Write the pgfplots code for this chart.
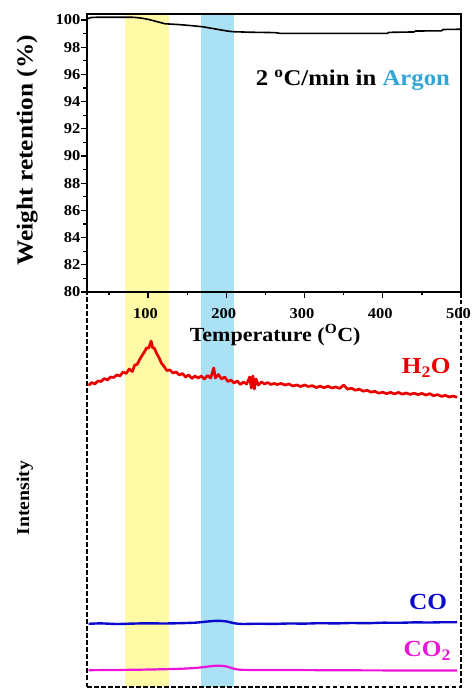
\documentclass[border=0pt]{standalone}
\usepackage{fontspec}
\setmainfont{Liberation Serif}[FakeStretch=1.1]
\usepackage{pgfplots}
\pgfplotsset{compat=1.18}

\definecolor{bandy}{RGB}{255,250,165}
\definecolor{bandb}{RGB}{170,225,245}
\definecolor{argon}{RGB}{50,165,215}
\definecolor{h2o}{RGB}{235,0,0}
\definecolor{coblue}{RGB}{10,10,205}
\definecolor{comag}{RGB}{235,20,215}

\begin{document}
\begin{tikzpicture}
\useasboundingbox (0,0) rectangle (473pt,691pt);

% lower panel: mass spec signals
\begin{axis}[
    at={(87pt,4pt)}, anchor=south west,
    scale only axis, width=374pt, height=395pt,
    xmin=22, xmax=500, ymin=0, ymax=395,
    axis lines=none, xtick=\empty, ytick=\empty,
    clip=false,
]
\addplot[fill=bandy, draw=none] coordinates {(70,0) (70,395) (127,395) (127,0)} -- cycle;
\addplot[fill=bandb, draw=none] coordinates {(168,0) (168,395) (210,395) (210,0)} -- cycle;

\addplot[h2o, line width=2.7pt, line join=round] coordinates {
(24,301.5) (28,304.5) (32,303) (36,306) (40,305.5) (44,308.5) (48,307) (52,310)
(56,309.5) (60,312) (64,311) (68,315) (72,313.5) (76,318) (80,315.5) (83,322)
(86,322.5) (89,327) (92,331) (95,334.5) (98,339) (101,339) (104,346) (106,339)
(108,339) (111,333.5) (114,329.5) (117,324) (120,321) (124,316.5) (128,317) (132,314)
(136,315) (140,312) (144,313.5) (148,310) (152,312) (156,308.5) (160,311) (164,309)
(168,311) (172,308) (176,311.5) (180,309) (184,319) (186,309) (190,312.5) (194,308)
(198,310) (202,305.5) (206,307) (210,304) (214,306) (218,302.5) (222,305) (226,303)
(230,310) (232,299) (234,311) (236,298) (238,308) (241,302) (245,305) (249,303)
(253,304.5) (257,302.5) (261,303.5) (265,302.5) (270,303.5) (275,302) (280,303) (285,301)
(290,302) (295,300.5) (300,302) (305,300.5) (310,301.3) (315,299.5) (320,300.8) (325,299.3)
(330,300.8) (335,299) (340,300) (345,298.6) (350,302) (355,297.8) (360,298.8) (365,296.8)
(370,297.8) (375,295.8) (380,296.7) (385,294.8) (390,295.7) (395,293.8) (400,294.8) (405,293.3)
(410,294.7) (415,293) (420,294.6) (425,292.8) (430,294) (435,292.6) (440,293.8) (445,292.4)
(450,293.6) (455,292) (460,293.3) (465,291.3) (470,292.4) (475,290.6) (480,291.7) (485,290)
(490,291) (495,289.7)
};

\addplot[coblue, line width=2.4pt, smooth] coordinates {
(24,63.2) (40,63.6) (60,63.0) (80,63.4) (100,63.7) (120,63.5) (140,63.8)
(160,64.3) (170,65.0) (180,65.8) (190,66.2) (200,65.6) (210,63.8) (220,63.0)
(240,63.3) (260,63.1) (280,63.5) (300,63.4) (320,63.8) (340,63.6) (360,64.0)
(380,63.8) (400,64.3) (420,64.2) (440,64.6) (460,64.5) (480,64.8) (495,64.7)
};

\addplot[comag, line width=2.2pt, smooth] coordinates {
(24,16.8) (50,17.0) (80,17.2) (110,17.6) (140,18.2) (160,19.0) (175,20.3)
(188,21.3) (200,20.6) (210,18.2) (220,17.2) (250,17.0) (300,16.9) (350,16.7)
(400,16.6) (450,16.5) (495,16.4)
};

\draw[dash pattern=on 4.5pt off 2.5pt, line width=1.5pt] (rel axis cs:0,0) rectangle (rel axis cs:1,1);

\node[text=h2o, font=\fontsize{23}{26}\selectfont\bfseries] at (rel axis cs:0.907,0.808) {H\textsubscript{2}O};
\node[text=coblue, font=\fontsize{23}{26}\selectfont\bfseries] at (rel axis cs:0.912,0.216) {CO};
\node[text=comag, font=\fontsize{23}{26}\selectfont\bfseries] at (rel axis cs:0.91,0.092) {CO\textsubscript{2}};
\node[rotate=90, font=\fontsize{18}{22}\selectfont\bfseries] at (rel axis cs:-0.166,0.478) {Intensity};
\end{axis}

% upper panel: TGA
\begin{axis}[
    at={(87pt,399pt)}, anchor=south west,
    scale only axis, width=374pt, height=278pt,
    xmin=22, xmax=500, ymin=80, ymax=100.44,
    axis on top, clip=false,
    axis line style={line width=1.6pt},
    xtick={100,200,...,500}, minor xtick={50,150,...,450},
    ytick={80,82,...,100}, minor ytick={81,83,...,99},
    tick align=outside, xtick pos=left, ytick pos=left,
    major tick length=6pt, minor tick length=3.5pt,
    every tick/.style={black, line width=1.3pt},
    ticklabel style={font=\fontsize{15}{18}\selectfont\bfseries},
    /pgf/number format/assume math mode=true,
    yticklabel style={xshift=3pt},
    xticklabel style={yshift=-7pt, xshift=-2.5pt},
    xlabel={Temperature (\textsuperscript{O}C)},
    ylabel={Weight retention (\%)},
    xlabel style={at={(axis description cs:0.503,-0.155)}, anchor=center, font=\fontsize{20}{24}\selectfont\bfseries},
    ylabel style={at={(axis description cs:-0.16,0.51)}, anchor=center, font=\fontsize{23}{26}\selectfont\bfseries},
]
\addplot[fill=bandy, draw=none] coordinates {(70,80) (70,100.44) (127,100.44) (127,80)} -- cycle;
\addplot[fill=bandb, draw=none] coordinates {(168,80) (168,100.44) (210,100.44) (210,80)} -- cycle;

\addplot[black, line width=1.6pt] coordinates {
(22,100.08) (27,100.18) (35,100.2) (60,100.2) (80,100.2) (90,100.15) (100,100.05)
(110,99.9) (122,99.72) (140,99.66) (156,99.58) (170,99.5) (185,99.35) (200,99.2)
(208,99.14) (230,99.1) (263,99.07) (268,99.02) (300,99.02) (350,99.02) (406,99.02)
(408,99.09) (440,99.12) (442,99.19) (475,99.2) (477,99.3) (500,99.32)
};

\node[font=\fontsize{22.5}{26}\selectfont\bfseries] at (rel axis cs:0.711,0.763) {2 \textsuperscript{o}C/min in \textcolor{argon}{Argon}};
\end{axis}
\end{tikzpicture}
\end{document}
